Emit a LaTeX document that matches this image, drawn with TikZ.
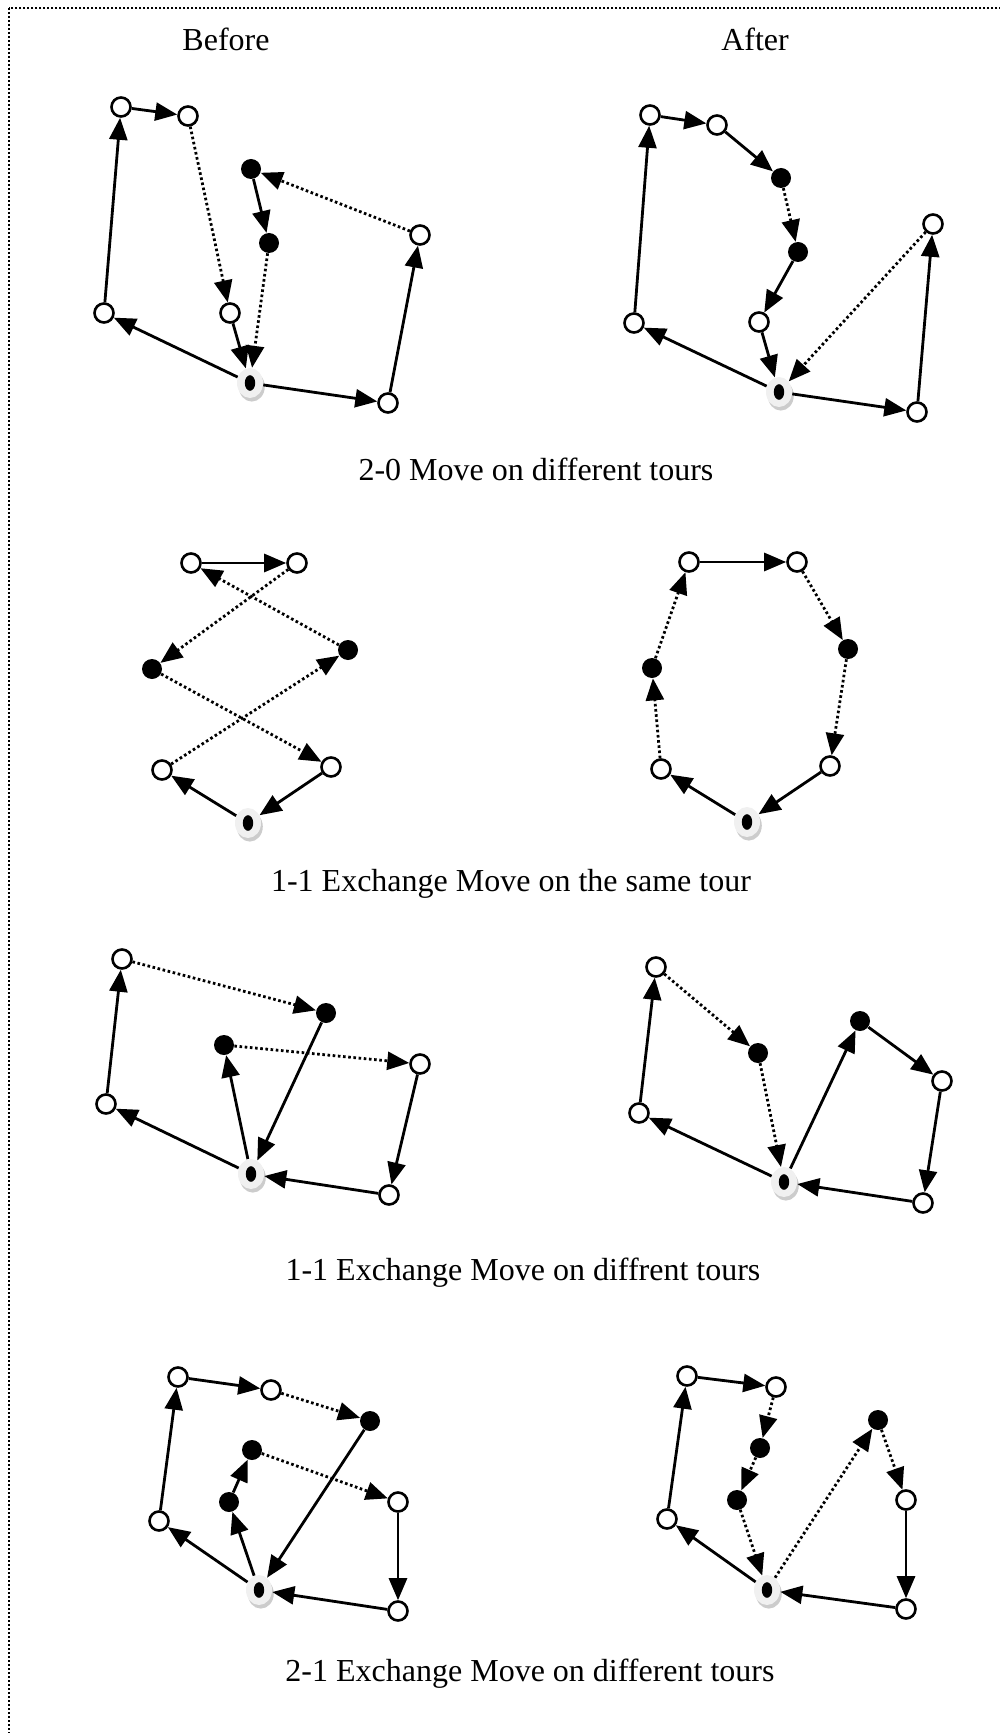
\documentclass[tikz,border=0pt]{standalone}
\usepackage{fontspec}
\setmainfont{Liberation Serif}
\usepackage{tikz}
\usetikzlibrary{arrows.meta, shapes.geometric, shadows}

\begin{document}
\begin{tikzpicture}[x=0.5pt, y=-0.5pt,
  every node/.style={font=\fontsize{16}{19}\selectfont},
  cust/.style={circle, draw, line width=1.3pt, fill=white, minimum size=9.5pt, inner sep=0pt},
  moved/.style={circle, fill=black, minimum size=10pt, inner sep=0pt},
  depot/.style={ellipse, fill=gray!12, minimum width=13pt, minimum height=15pt, inner sep=0pt,
    copy shadow={shadow xshift=0.9pt, shadow yshift=-1.8pt, fill=gray!40, draw=none},
    label={[ellipse, fill=black, minimum width=5.2pt, minimum height=7.8pt, inner sep=0pt]center:{}}},
  tourleg/.style={line width=1.4pt, -{Triangle[length=11pt, width=9pt]}},
  chgleg/.style={tourleg, dash pattern=on 1.3pt off 1.3pt}]
\clip (0,0) rectangle (1000,1733);
\draw[line width=0.8pt, dash pattern=on 0.8pt off 1.2pt] (9,8) rectangle (1012,1745);

\node (before) at (226,39) {Before};
\node (after) at (755,39) {After};

% 2-0 move
\node[depot] (b1dep) at (250,383) {};
\node[cust] (b1n1) at (104,313) {};
\node[cust] (b1n2) at (121,107) {};
\node[cust] (b1n3) at (188,116) {};
\node[cust] (b1n4) at (230,313) {};
\node[moved] (b1m1) at (251,169) {};
\node[moved] (b1m2) at (269,243) {};
\node[cust] (b1n5) at (420,235) {};
\node[cust] (b1n6) at (388,403) {};
\draw[tourleg] (b1dep) -- (b1n1);
\draw[tourleg] (b1n1) -- (b1n2);
\draw[tourleg] (b1n2) -- (b1n3);
\draw[chgleg] (b1n3) -- (b1n4);
\draw[tourleg] (b1n4) -- (b1dep);
\draw[tourleg] (b1dep) -- (b1n6);
\draw[tourleg] (b1n6) -- (b1n5);
\draw[chgleg] (b1n5) -- (b1m1);
\draw[tourleg] (b1m1) -- (b1m2);
\draw[chgleg] (b1m2) -- (b1dep);

\node[depot] (a1dep) at (779,392) {};
\node[cust] (a1n1) at (634,323) {};
\node[cust] (a1n2) at (650,115) {};
\node[cust] (a1n3) at (717,125) {};
\node[moved] (a1m1) at (781,178) {};
\node[moved] (a1m2) at (798,252) {};
\node[cust] (a1n4) at (759,322) {};
\node[cust] (a1n5) at (933,224) {};
\node[cust] (a1n6) at (917,412) {};
\draw[tourleg] (a1dep) -- (a1n1);
\draw[tourleg] (a1n1) -- (a1n2);
\draw[tourleg] (a1n2) -- (a1n3);
\draw[tourleg] (a1n3) -- (a1m1);
\draw[chgleg] (a1m1) -- (a1m2);
\draw[tourleg] (a1m2) -- (a1n4);
\draw[tourleg] (a1n4) -- (a1dep);
\draw[tourleg] (a1dep) -- (a1n6);
\draw[tourleg] (a1n6) -- (a1n5);
\draw[chgleg] (a1n5) -- (a1dep);
\node (cap1) at (536,469) {2-0 Move on different tours};

% 1-1 exchange, same tour
\node[depot] (b2dep) at (248,823) {};
\node[cust] (b2n1) at (162,770) {};
\node[cust] (b2n2) at (191,563) {};
\node[cust] (b2n3) at (297,563) {};
\node[cust] (b2n4) at (331,767) {};
\node[moved] (b2m1) at (152,669) {};
\node[moved] (b2m2) at (348,650) {};
\draw[tourleg] (b2n2) -- (b2n3);
\draw[chgleg] (b2n3) -- (b2m1);
\draw[chgleg] (b2m1) -- (b2n4);
\draw[tourleg] (b2n4) -- (b2dep);
\draw[tourleg] (b2dep) -- (b2n1);
\draw[chgleg] (b2n1) -- (b2m2);
\draw[chgleg] (b2m2) -- (b2n2);

\node[depot] (a2dep) at (747,822) {};
\node[cust] (a2n1) at (661,769) {};
\node[cust] (a2n2) at (689,562) {};
\node[cust] (a2n3) at (797,562) {};
\node[cust] (a2n4) at (830,766) {};
\node[moved] (a2m1) at (652,668) {};
\node[moved] (a2m2) at (848,649) {};
\draw[tourleg] (a2n2) -- (a2n3);
\draw[chgleg] (a2n3) -- (a2m2);
\draw[chgleg] (a2m2) -- (a2n4);
\draw[tourleg] (a2n4) -- (a2dep);
\draw[tourleg] (a2dep) -- (a2n1);
\draw[chgleg] (a2n1) -- (a2m1);
\draw[chgleg] (a2m1) -- (a2n2);
\node (cap2) at (511,884) {1-1 Exchange Move on the same tour};

% 1-1 exchange, different tours
\node[depot] (b3dep) at (251,1174) {};
\node[cust] (b3n1) at (106,1104) {};
\node[cust] (b3n2) at (122,959) {};
\node[moved] (b3m1) at (326,1013) {};
\node[moved] (b3m2) at (224,1045) {};
\node[cust] (b3n3) at (420,1064) {};
\node[cust] (b3n4) at (389,1195) {};
\draw[tourleg] (b3dep) -- (b3n1);
\draw[tourleg] (b3n1) -- (b3n2);
\draw[chgleg] (b3n2) -- (b3m1);
\draw[tourleg] (b3m1) -- (b3dep);
\draw[tourleg] (b3dep) -- (b3m2);
\draw[chgleg] (b3m2) -- (b3n3);
\draw[tourleg] (b3n3) -- (b3n4);
\draw[tourleg] (b3n4) -- (b3dep);

\node[depot] (a3dep) at (784,1182) {};
\node[cust] (a3n1) at (639,1113) {};
\node[cust] (a3n2) at (656,967) {};
\node[moved] (a3m1) at (758,1053) {};
\node[moved] (a3m2) at (860,1021) {};
\node[cust] (a3n3) at (942,1081) {};
\node[cust] (a3n4) at (923,1203) {};
\draw[tourleg] (a3dep) -- (a3n1);
\draw[tourleg] (a3n1) -- (a3n2);
\draw[chgleg] (a3n2) -- (a3m1);
\draw[chgleg] (a3m1) -- (a3dep);
\draw[tourleg] (a3dep) -- (a3m2);
\draw[tourleg] (a3m2) -- (a3n3);
\draw[tourleg] (a3n3) -- (a3n4);
\draw[tourleg] (a3n4) -- (a3dep);
\node (cap3) at (523,1273) {1-1 Exchange Move on diffrent tours};

% 2-1 exchange
\node[depot] (b4dep) at (259,1590) {};
\node[cust] (b4n1) at (159,1521) {};
\node[cust] (b4n2) at (178,1377) {};
\node[cust] (b4n3) at (271,1390) {};
\node[moved] (b4m1) at (370,1421) {};
\node[moved] (b4m2) at (229,1502) {};
\node[moved] (b4m3) at (252,1450) {};
\node[cust] (b4n4) at (398,1502) {};
\node[cust] (b4n5) at (398,1611) {};
\draw[tourleg] (b4dep) -- (b4n1);
\draw[tourleg] (b4n1) -- (b4n2);
\draw[tourleg] (b4n2) -- (b4n3);
\draw[chgleg] (b4n3) -- (b4m1);
\draw[tourleg] (b4m1) -- (b4dep);
\draw[tourleg] (b4dep) -- (b4m2);
\draw[tourleg] (b4m2) -- (b4m3);
\draw[chgleg] (b4m3) -- (b4n4);
\draw[tourleg] (b4n4) -- (b4n5);
\draw[tourleg] (b4n5) -- (b4dep);

\node[depot] (a4dep) at (767,1590) {};
\node[cust] (a4n1) at (667,1519) {};
\node[cust] (a4n2) at (687,1376) {};
\node[cust] (a4n3) at (776,1387) {};
\node[moved] (a4m1) at (878,1420) {};
\node[moved] (a4m2) at (760,1448) {};
\node[moved] (a4m3) at (737,1500) {};
\node[cust] (a4n4) at (906,1500) {};
\node[cust] (a4n5) at (906,1609) {};
\draw[tourleg] (a4dep) -- (a4n1);
\draw[tourleg] (a4n1) -- (a4n2);
\draw[tourleg] (a4n2) -- (a4n3);
\draw[chgleg] (a4n3) -- (a4m2);
\draw[chgleg] (a4m2) -- (a4m3);
\draw[chgleg] (a4m3) -- (a4dep);
\draw[chgleg] (a4dep) -- (a4m1);
\draw[chgleg] (a4m1) -- (a4n4);
\draw[tourleg] (a4n4) -- (a4n5);
\draw[tourleg] (a4n5) -- (a4dep);
\node (cap4) at (530,1674) {2-1 Exchange Move on different tours};
\end{tikzpicture}
\end{document}
